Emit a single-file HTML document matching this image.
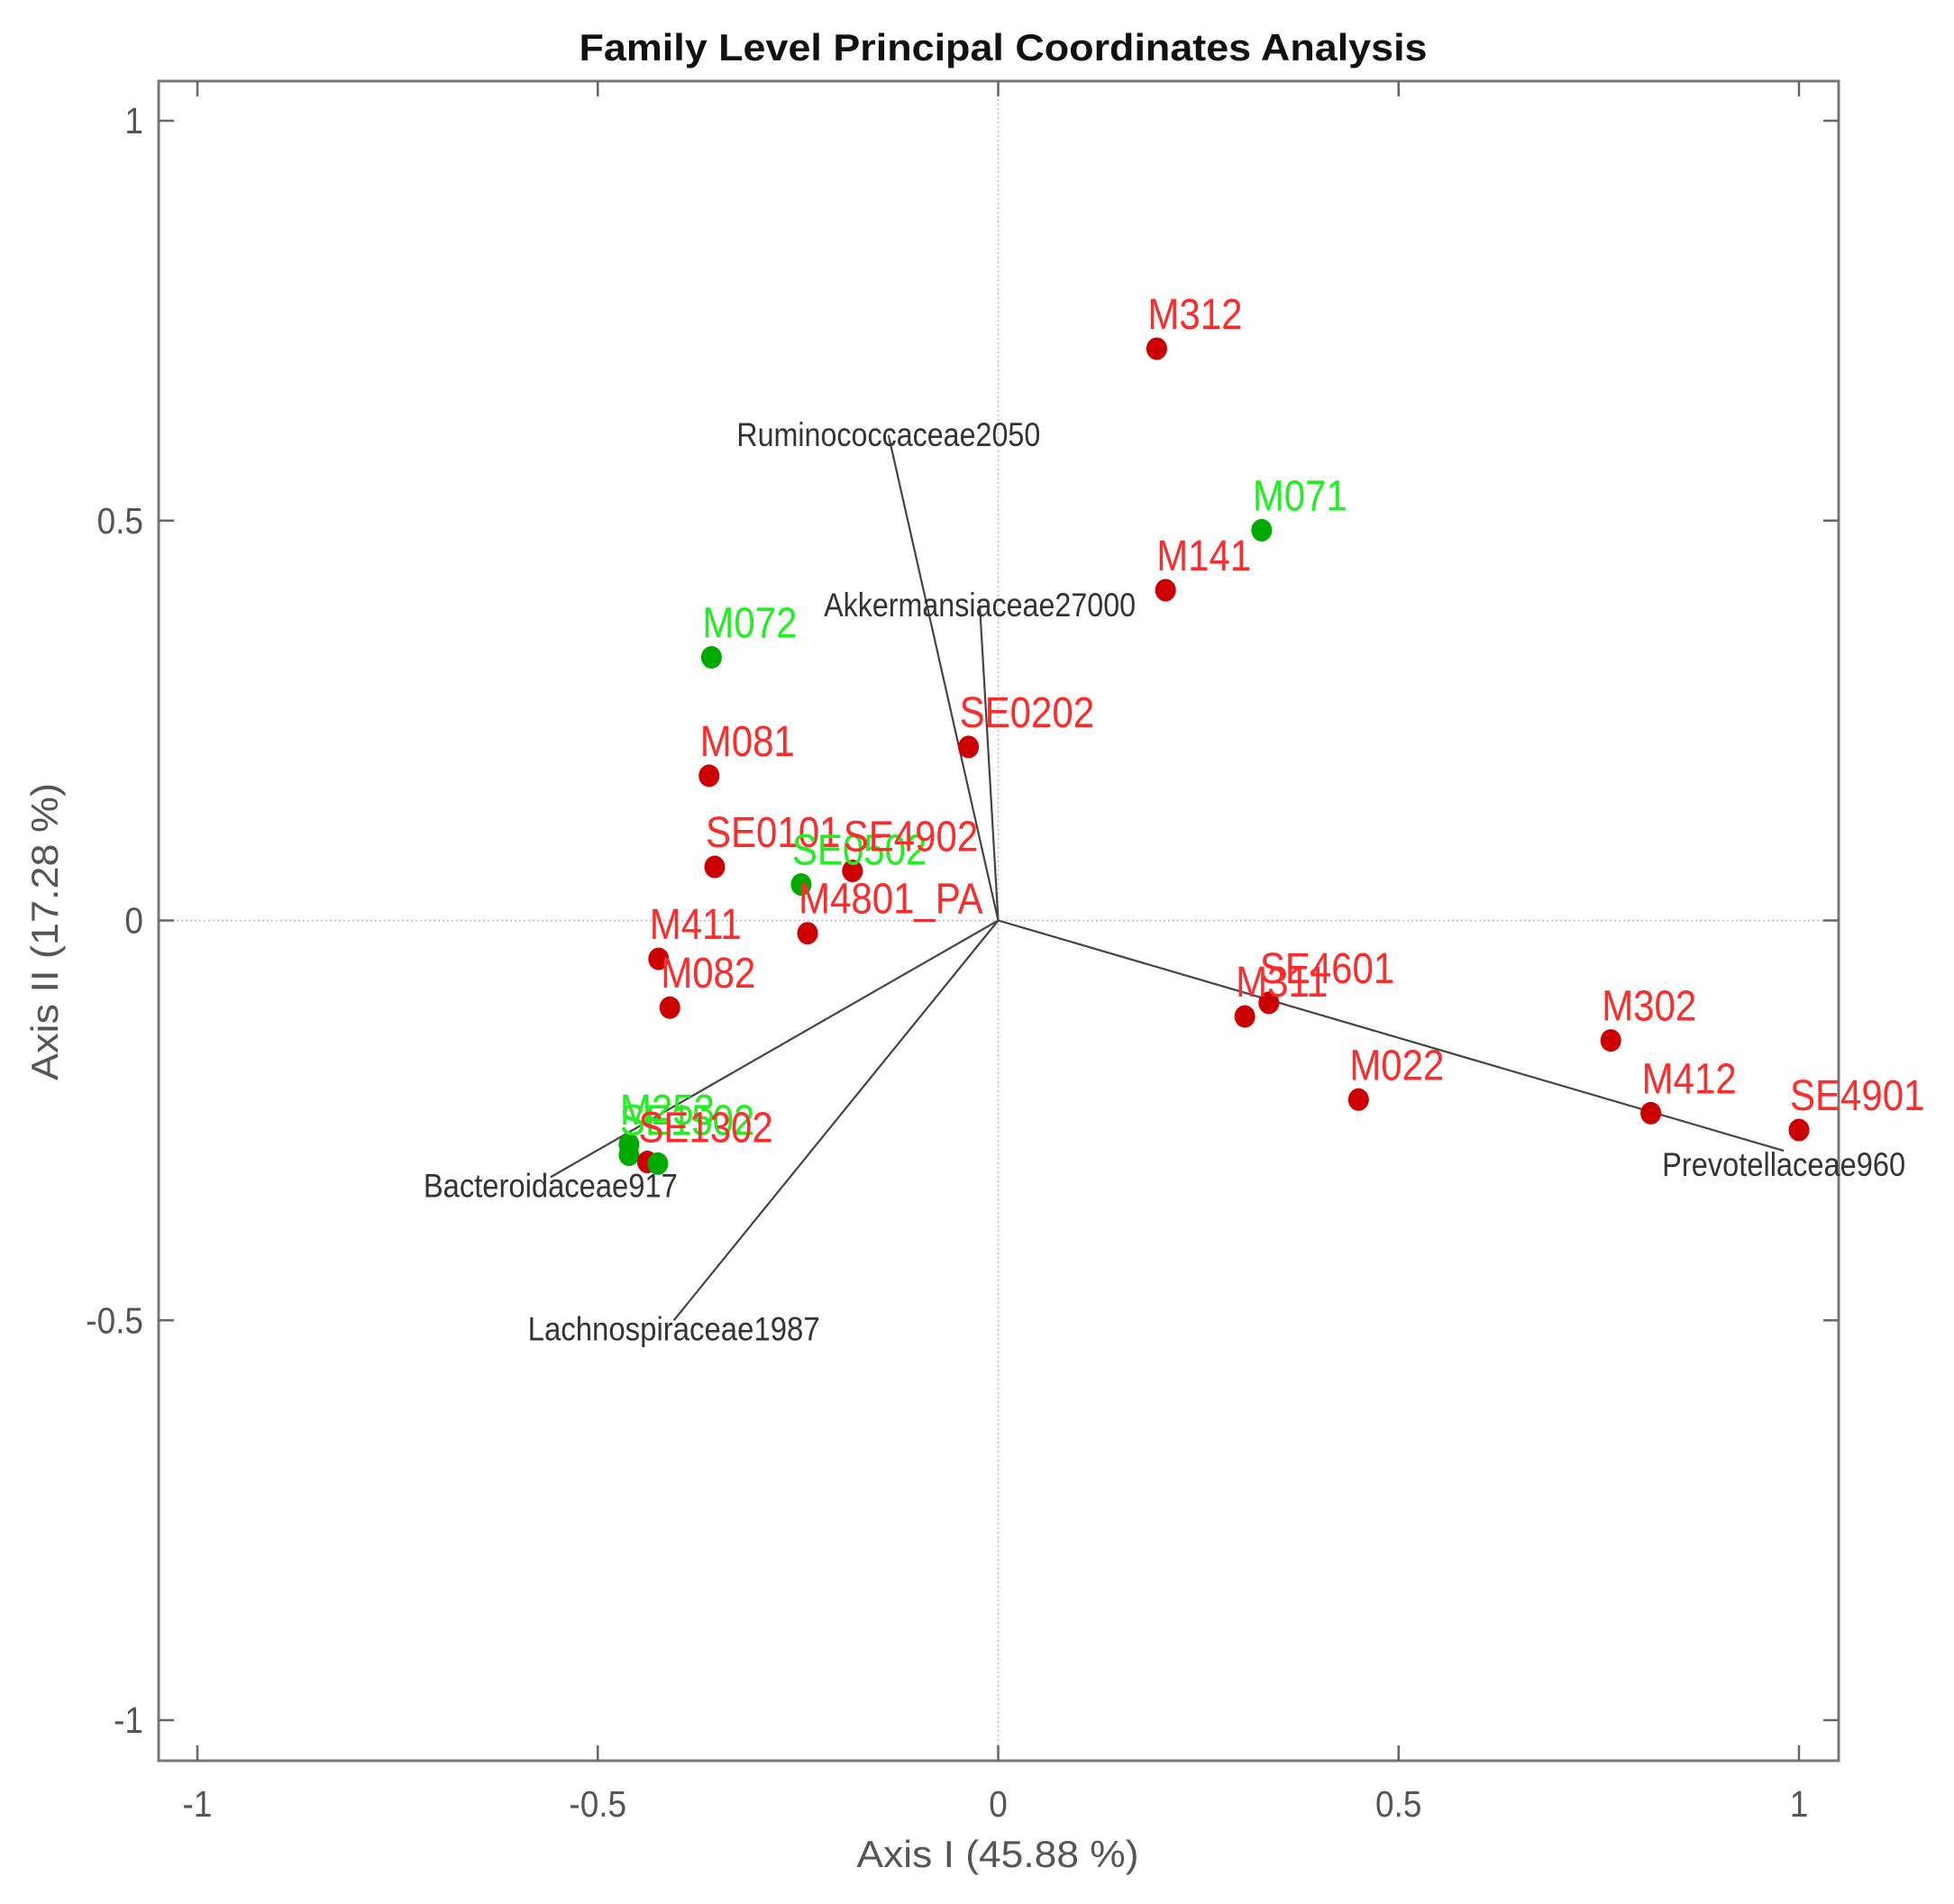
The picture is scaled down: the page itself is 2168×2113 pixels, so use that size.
<!DOCTYPE html>
<html><head><meta charset="utf-8"><style>
html,body{margin:0;padding:0;background:#fff;}
svg{display:block;}
text{font-family:"Liberation Sans",Arial,sans-serif;}
</style></head>
<body>
<svg id="chart" width="2168" height="2113" viewBox="0 0 2168 2113" xmlns="http://www.w3.org/2000/svg">
<rect x="0" y="0" width="2168" height="2113" fill="#fff"/>
</svg>
<script>
// ---- data ----
const sampleNames = ["M312","M071","M141","M072","SE0202","M081","SE0101","SE0502","SE4902","M4801_PA","M411","M082","SE4601","M311","M302","M022","M412","SE4901","M253","SE1502","SE1302","SE1501"];
const sampleX = [0.198,0.329,0.209,-0.358,-0.037,-0.361,-0.354,-0.246,-0.182,-0.238,-0.424,-0.410,0.338,0.308,0.765,0.450,0.815,1.000,-0.461,-0.461,-0.438,-0.425];
const sampleY = [0.715,0.488,0.413,0.329,0.217,0.181,0.067,0.045,0.062,-0.016,-0.048,-0.109,-0.103,-0.120,-0.150,-0.224,-0.241,-0.262,-0.280,-0.293,-0.302,-0.304];
const sampleGroup = ["r","g","r","g","r","r","r","g","r","r","r","r","r","r","r","r","r","r","g","g","r","g"];
const showLabel = [1,1,1,1,1,1,1,1,1,1,1,1,1,1,1,1,1,1,1,1,1,0];
const vectorNames = ["Ruminococcaceae2050","Akkermansiaceae27000","Bacteroidaceae917","Lachnospiraceae1987","Prevotellaceae960"];
const vectorX = [-0.137,-0.023,-0.559,-0.405,0.981];
const vectorY = [0.607,0.394,-0.321,-0.500,-0.288];
const tickValues = [-1,-0.5,0,0.5,1];
const tickLabels = ["-1","-0.5","0","0.5","1"];

// ---- axes ----
const L=176,R=2040,T=90,B=1954;
function X(v){return 1107.5+888.5*v;}
function Y(v){return 1021.5-887.5*v;}
const svg=document.getElementById('chart');
const NS="http://www.w3.org/2000/svg";
function el(tag,attrs,parent){const e=document.createElementNS(NS,tag);for(const k in attrs)e.setAttribute(k,attrs[k]);(parent||svg).appendChild(e);return e;}
function txt(str,x,y,size,fill,anchor,sy,extra){
  const g=el('g',{transform:`translate(${x},${y}) scale(1,${sy})`});
  const t=el('text',Object.assign({x:0,y:0,'font-size':size,fill:fill,'text-anchor':anchor},extra||{}),g);
  t.textContent=str;return [g,t];
}

let z1=el('line',{x1:L,x2:R,y1:Y(0),y2:Y(0),stroke:'#bbb','stroke-width':1.5,'stroke-dasharray':'2,3'});


let z2=el('line',{x1:X(0),x2:X(0),y1:T,y2:B,stroke:'#bbb','stroke-width':1.5,'stroke-dasharray':'2,3'});



let fr=el('rect',{x:L,y:T,width:R-L,height:B-T,fill:'none',stroke:'#777','stroke-width':3});



tickValues.forEach((v,i)=>{
  const tk=17;
  el('line',{x1:X(v),x2:X(v),y1:B,y2:B-tk,stroke:'#666','stroke-width':2.5});
  el('line',{x1:X(v),x2:X(v),y1:T,y2:T+tk,stroke:'#666','stroke-width':2.5});
  el('line',{x1:L,x2:L+tk,y1:Y(v),y2:Y(v),stroke:'#666','stroke-width':2.5});
  el('line',{x1:R,x2:R-tk,y1:Y(v),y2:Y(v),stroke:'#666','stroke-width':2.5});
  let [gx]=txt(tickLabels[i],X(v),2016,37,'#555','middle',1.1);
  
  
  let [gy]=txt(tickLabels[i],159,Y(v)+14,37,'#555','end',1.1);
  
  
});

vectorNames.forEach((n,i)=>{
  const ex=X(vectorX[i]),ey=Y(vectorY[i]);
  let ln=el('line',{x1:X(0),y1:Y(0),x2:ex,y2:ey,stroke:'#444','stroke-width':2.2});
  
  
  const widths=[337,346,282,324,270];
  const dy=[12,12,22,22,28];
  let [g]=txt(n,ex,ey+dy[i],31,'#333','middle',1.2,{textLength:widths[i],lengthAdjust:'spacingAndGlyphs'});
  
  
});

sampleNames.forEach((n,i)=>{
  const px=X(sampleX[i]),py=Y(sampleY[i]);
  const red=sampleGroup[i]==='r';
  let c=el('ellipse',{cx:px,cy:py,rx:11.5,ry:12.5,fill:red?'#cc0000':'#00aa00'});
  
  
});
sampleNames.forEach((n,i)=>{
  if(!showLabel[i])return;
  const px=X(sampleX[i]),py=Y(sampleY[i]);
  const red=sampleGroup[i]==='r';
  let [g]=txt(n,px-10,py-22,42,red?'#ff2a2a':'#22ee22','start',1.15);
  
  
});

let [tg]=txt('Family Level Principal Coordinates Analysis',1113,67,38,'#111','middle',1.1,{'font-weight':'bold',textLength:941,lengthAdjust:'spacingAndGlyphs'});


let [xg]=txt('Axis I (45.88 %)',1107,2072,38,'#555','middle',1.1,{textLength:313,lengthAdjust:'spacingAndGlyphs'});


let yg=el('g',{transform:`translate(64,1034) rotate(-90) scale(1,1.1)`});


let yt=el('text',{x:0,y:0,'font-size':38,fill:'#555','text-anchor':'middle',textLength:330,lengthAdjust:'spacingAndGlyphs'},yg);
yt.textContent='Axis II (17.28 %)';
</script>
</body></html>
